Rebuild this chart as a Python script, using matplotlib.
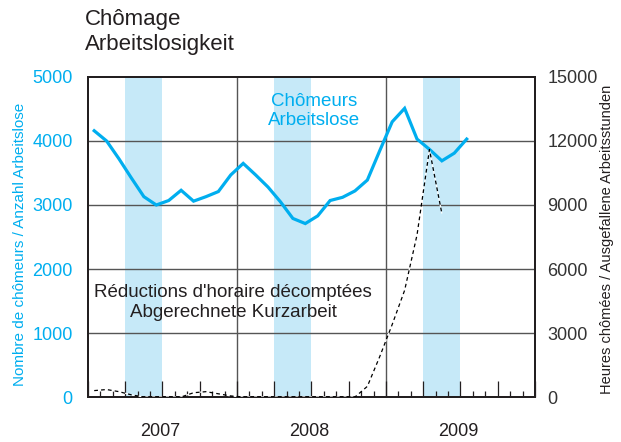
import numpy as np
import matplotlib
matplotlib.use("Agg")
import matplotlib.pyplot as plt
from matplotlib.ticker import MultipleLocator

plt.rcParams['font.family'] = ['Liberation Sans', 'DejaVu Sans']

# months since Jan 2007, values at mid-month
months = np.arange(31) + 0.5
chomeurs = [4160, 4000, 3720, 3420, 3130, 3000, 3070, 3230, 3060, 3130,
            3210, 3470, 3650, 3470, 3280, 3050, 2790, 2710, 2830, 3070,
            3120, 3220, 3390, 3850, 4300, 4510, 4030, 3870, 3690, 3810, 4030]

kurz_months = np.arange(29) + 0.5
kurzarbeit = [300, 350, 250, 100, 0, 0, 0, 0, 200, 250,
              150, 50, 0, 0, 0, 0, 0, 0, 0, 0,
              0, 0, 500, 1900, 3400, 5000, 7600, 11600, 8600]

bands = [(3, 6), (15, 18), (27, 30)]
years = ["2007", "2008", "2009"]

blue = '#00aeef'
dark = '#231f20'

fig = plt.figure(figsize=(6.21, 4.42), dpi=100)
ax = fig.add_axes([0.1417, 0.1018, 0.7198, 0.724])
ax2 = ax.twinx()

for a, b in bands:
    ax.axvspan(a, b, color='#c6e9f8', lw=0, zorder=0)

ax.set_xlim(0, 36)
ax.set_ylim(0, 5000)
ax2.set_ylim(0, 15000)

for v in [1000, 2000, 3000, 4000]:
    ax.axhline(v, color='#555555', lw=1, zorder=1)
for m in [12, 24]:
    ax.axvline(m, color='#555555', lw=1, zorder=1)

ax.plot(months, chomeurs, color=blue, lw=2.3, solid_joinstyle='miter', zorder=3)
ax2.plot(kurz_months, kurzarbeit, color='black', lw=0.9, ls=(0, (3, 2.5)),
         gapcolor='white', zorder=3)

ax.set_yticks(range(0, 5001, 1000))
ax2.set_yticks(range(0, 15001, 3000))
ax.tick_params(axis='y', length=0, pad=11, labelsize=13, labelcolor=blue)
ax2.tick_params(axis='y', length=0, pad=9, labelsize=13, labelcolor='#333333')

ax.xaxis.set_major_locator(MultipleLocator(3))
ax.xaxis.set_minor_locator(MultipleLocator(1))
ax.tick_params(axis='x', which='major', direction='in', length=11.5, width=0.9,
               color=dark, labelbottom=False)
ax.tick_params(axis='x', which='minor', direction='in', length=4.5, width=0.9,
               color=dark)

for a in (ax, ax2):
    for s in a.spines.values():
        s.set_linewidth(1.4)
        s.set_color(dark)

for i, y in enumerate(years):
    ax.text(12 * i + 5.8, -545, y, ha='center', va='center', fontsize=13, color=dark)

ax.text(18.2, 4470, "Chômeurs\nArbeitslose", ha='center', va='center',
        fontsize=13.5, color=blue, linespacing=1.2)
ax.text(11.7, 1480, "Réductions d'horaire décomptées\nAbgerechnete Kurzarbeit",
        ha='center', va='center', fontsize=13.5, color=dark, linespacing=1.2)

fig.text(0.032, 0.448, "Nombre de chômeurs / Anzahl Arbeitslose",
         rotation=90, ha='center', va='center', fontsize=11, color=blue)
fig.text(0.977, 0.459, "Heures chômées / Ausgefallene Arbeitsstunden",
         rotation=90, ha='center', va='center', fontsize=10.5, color=dark)

fig.text(85 / 621, 1 - 9 / 442, "Chômage\nArbeitslosigkeit", ha='left', va='top',
         fontsize=16, color=dark, linespacing=1.25)

fig.savefig("out.png", dpi=100)
